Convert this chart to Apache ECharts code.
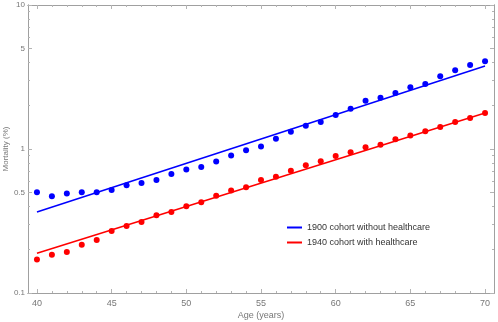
<!DOCTYPE html>
<html>
<head>
<meta charset="utf-8">
<script src="https://cdn.jsdelivr.net/npm/echarts@6/dist/echarts.min.js"></script>
<style>
  html, body { margin: 0; padding: 0; background: #fff; }
  #main { width: 498px; height: 322px; }
</style>
</head>
<body>
<div id="main"></div>
<script>
// ages 40..70
const ages = [40, 41, 42, 43, 44, 45, 46, 47, 48, 49, 50, 51, 52, 53, 54, 55,
  56, 57, 58, 59, 60, 61, 62, 63, 64, 65, 66, 67, 68, 69, 70]

// mortality (%)
const cohort1900 = [0.50, 0.47, 0.49, 0.50, 0.50, 0.52, 0.56, 0.58, 0.61, 0.67,
  0.72, 0.75, 0.82, 0.90, 0.98, 1.04, 1.18, 1.32, 1.45, 1.54, 1.72, 1.90, 2.16,
  2.27, 2.45, 2.68, 2.83, 3.20, 3.52, 3.83, 4.06]
const cohort1940 = [0.171, 0.184, 0.193, 0.216, 0.233, 0.270, 0.292, 0.311,
  0.346, 0.365, 0.400, 0.427, 0.474, 0.516, 0.542, 0.609, 0.642, 0.707, 0.770,
  0.821, 0.894, 0.948, 1.03, 1.07, 1.17, 1.24, 1.33, 1.42, 1.54, 1.64, 1.78]

// fitted lines (end points)
const fitAges = [40, 70]
const fit1900 = [0.365, 3.77]
const fit1940 = [0.189, 1.78]

const legendNames = ['1900 cohort without healthcare', '1940 cohort with healthcare']

const xMajor = [40, 45, 50, 55, 60, 65, 70]
const xMinor = ages
const yMajor = [0.1, 0.5, 1, 5, 10]
const yMinor = [0.2, 0.3, 0.4, 0.6, 0.7, 0.8, 0.9, 2, 3, 4, 6, 7, 8, 9]

const frameColor = '#a0a0a0'
const tickColor = '#b4b4b4'
const labelColor = '#777'

function xAxisOf(position, ticks, len, showLabel) {
  return {
    type: 'value', position: position, min: 39.4, max: 70.6,
    name: showLabel ? 'Age (years)' : '',
    nameLocation: 'middle', nameGap: 18, nameMoveOverlap: false,
    nameTextStyle: { color: labelColor, fontSize: 9, fontFamily: 'Liberation Sans' },
    axisLine: { show: true, onZero: false, lineStyle: { color: frameColor, width: 1 } },
    axisTick: { show: true, inside: true, length: len, customValues: ticks, lineStyle: { color: tickColor } },
    axisLabel: { show: showLabel, customValues: xMajor, margin: 6, color: labelColor, fontSize: 9, fontFamily: 'Liberation Sans' },
    splitLine: { show: false }
  }
}

function yAxisOf(position, ticks, len, showLabel) {
  return {
    type: 'log', logBase: 10, position: position, min: 0.1, max: 10,
    name: showLabel ? 'Mortality (%)' : '',
    nameLocation: 'middle', nameGap: 18, nameMoveOverlap: false,
    nameTextStyle: { color: labelColor, fontSize: 8, fontFamily: 'Liberation Sans' },
    axisLine: { show: true, onZero: false, lineStyle: { color: frameColor, width: 1 } },
    axisTick: { show: true, inside: true, length: len, customValues: ticks, lineStyle: { color: tickColor } },
    axisLabel: {
      show: showLabel, customValues: yMajor, margin: 3, color: labelColor, fontSize: 8,
      fontFamily: 'Liberation Sans', formatter: v => String(+v.toPrecision(3))
    },
    splitLine: { show: false }
  }
}

const chart = echarts.init(document.getElementById('main'))
chart.setOption({
  animation: false,
  grid: { left: 28, right: 4, top: 5, bottom: 29, outerBoundsMode: 'none', containLabel: false },
  legend: {
    data: legendNames,
    orient: 'vertical', left: 282, top: 218, itemGap: 6,
    itemWidth: 15, itemHeight: 2, icon: 'rect',
    textStyle: { color: '#333', fontSize: 9, fontFamily: 'Liberation Sans' }
  },
  xAxis: [
    xAxisOf('bottom', xMajor, 4, true),
    xAxisOf('bottom', xMinor, 2, false),
    xAxisOf('top', xMajor, 4, false),
    xAxisOf('top', xMinor, 2, false)
  ],
  yAxis: [
    yAxisOf('left', yMajor, 4, true),
    yAxisOf('left', yMinor, 2, false),
    yAxisOf('right', yMajor, 4, false),
    yAxisOf('right', yMinor, 2, false)
  ],
  series: [
    {
      name: legendNames[0], type: 'line', showSymbol: false, symbol: 'none',
      data: fitAges.map((a, i) => [a, fit1900[i]]),
      lineStyle: { color: '#0000ff', width: 1.5 }, itemStyle: { color: '#0000ff' }
    },
    {
      name: legendNames[1], type: 'line', showSymbol: false, symbol: 'none',
      data: fitAges.map((a, i) => [a, fit1940[i]]),
      lineStyle: { color: '#ff0000', width: 1.5 }, itemStyle: { color: '#ff0000' }
    },
    {
      name: 'pts1900', type: 'scatter', symbolSize: 6,
      data: ages.map((a, i) => [a, cohort1900[i]]),
      itemStyle: { color: '#0000ff', opacity: 1 }
    },
    {
      name: 'pts1940', type: 'scatter', symbolSize: 6,
      data: ages.map((a, i) => [a, cohort1940[i]]),
      itemStyle: { color: '#ff0000', opacity: 1 }
    }
  ]
})
</script>
</body>
</html>
